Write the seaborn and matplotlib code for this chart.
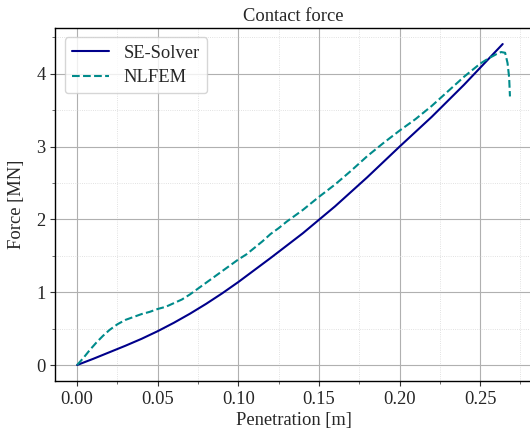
import numpy as np
import pandas as pd
import matplotlib
matplotlib.use("Agg")
import matplotlib.pyplot as plt
from matplotlib.ticker import AutoMinorLocator, MultipleLocator
import seaborn as sns

# ---- data ----
se_x = [0.0, 0.01, 0.02, 0.03, 0.04, 0.05, 0.06, 0.07, 0.08, 0.09, 0.10,
        0.12, 0.14, 0.16, 0.18, 0.20, 0.22, 0.24, 0.264]
se_y = [0.0, 0.085, 0.175, 0.265, 0.36, 0.465, 0.58, 0.705, 0.84, 0.985, 1.14,
        1.47, 1.81, 2.18, 2.58, 3.0, 3.41, 3.85, 4.41]

nl_x = [0.0, 0.004, 0.008, 0.012, 0.016, 0.02, 0.025, 0.03, 0.035, 0.04, 0.045,
        0.05, 0.055, 0.06, 0.065, 0.07, 0.075, 0.08, 0.09, 0.10, 0.105, 0.11,
        0.115, 0.12, 0.125, 0.13, 0.14, 0.15, 0.16, 0.17, 0.18, 0.19, 0.20,
        0.21, 0.22, 0.23, 0.24, 0.25, 0.255, 0.26, 0.263, 0.2655, 0.267,
        0.268, 0.2685]
nl_y = [0.0, 0.10, 0.21, 0.31, 0.40, 0.48, 0.56, 0.62, 0.66, 0.70, 0.73,
        0.77, 0.80, 0.85, 0.90, 0.97, 1.05, 1.13, 1.29, 1.45, 1.52, 1.61,
        1.70, 1.80, 1.88, 1.97, 2.13, 2.31, 2.48, 2.67, 2.87, 3.05, 3.22,
        3.38, 3.56, 3.76, 3.96, 4.14, 4.21, 4.27, 4.30, 4.29, 4.15,
        3.95, 3.69]

series_names = ["SE-Solver", "NLFEM"]
title = "Contact force"
xlabel = "Penetration [m]"
ylabel = "Force [MN]"

df = pd.concat([
    pd.DataFrame({"x": se_x, "y": se_y, "series": series_names[0]}),
    pd.DataFrame({"x": nl_x, "y": nl_y, "series": series_names[1]}),
], ignore_index=True)

sns.set_style("ticks")
plt.rcParams["font.family"] = ["Liberation Serif", "DejaVu Serif"]
plt.rcParams["mathtext.fontset"] = "stix"

fs = 13.3
fig = plt.figure(figsize=(5.30, 4.34), dpi=100)
ax = fig.add_axes([0.1047, 0.122, 1.003 - 0.1047, 0.9355 - 0.122])

sns.lineplot(data=df, x="x", y="y", hue="series", style="series",
             palette={"SE-Solver": "#00008b", "NLFEM": "#008b8b"},
             dashes={"SE-Solver": "", "NLFEM": (3.7, 1.6)},
             linewidth=1.5, sort=False, estimator=None, ax=ax)

ax.set_title(title, fontsize=fs, pad=5)
ax.set_xlabel(xlabel, fontsize=fs, labelpad=3)
ax.set_ylabel(ylabel, fontsize=fs, labelpad=8)

ax.xaxis.set_major_locator(MultipleLocator(0.05))
ax.yaxis.set_major_locator(MultipleLocator(1))
ax.xaxis.set_minor_locator(AutoMinorLocator(2))
ax.yaxis.set_minor_locator(AutoMinorLocator(2))
ax.set_xticks([0.0, 0.05, 0.10, 0.15, 0.20, 0.25])
ax.set_xticklabels(["0.00", "0.05", "0.10", "0.15", "0.20", "0.25"])
ax.set_yticks([0, 1, 2, 3, 4])
ax.set_yticklabels(["0", "1", "2", "3", "4"])
ax.tick_params(axis="both", which="major", labelsize=fs, direction="out",
               length=3.5, width=0.8, color="#333333")
ax.tick_params(axis="both", which="minor", direction="out", length=2,
               width=0.6, color="#555555")

ax.grid(True, which="major", color="#b0b0b0", linewidth=0.8, linestyle="-")
ax.grid(True, which="minor", color="#d8d8d8", linewidth=0.6, linestyle=":")
ax.set_axisbelow(True)

for name, sp in ax.spines.items():
    sp.set_visible(name != "right")
    sp.set_color("black")
    sp.set_linewidth(1.0)

ax.margins(x=0.05, y=0.05)

leg = ax.legend(loc="upper left", fontsize=fs, frameon=True, fancybox=True,
                framealpha=0.8, edgecolor="#cccccc", handlelength=2.0,
                borderpad=0.4, labelspacing=0.4)
leg.set_title(None)

fig.savefig("out.png", dpi=100)
